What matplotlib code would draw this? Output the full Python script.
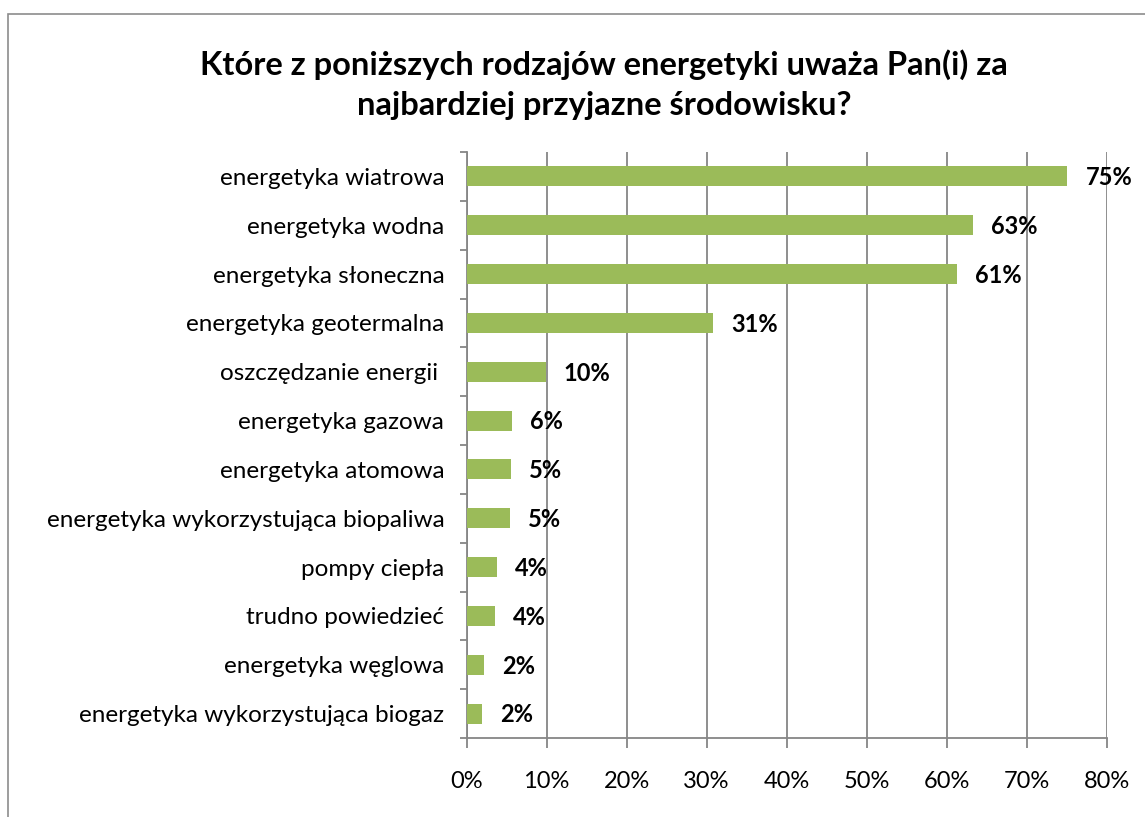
import matplotlib
matplotlib.use("Agg")
import matplotlib.pyplot as plt
from matplotlib.patches import Rectangle
import numpy as np

plt.rcParams["font.family"] = ["Lato", "DejaVu Sans"]

categories = [
    "energetyka wiatrowa",
    "energetyka wodna",
    "energetyka słoneczna",
    "energetyka geotermalna",
    "oszczędzanie energii ",
    "energetyka gazowa",
    "energetyka atomowa",
    "energetyka wykorzystująca biopaliwa",
    "pompy ciepła",
    "trudno powiedzieć",
    "energetyka węglowa",
    "energetyka wykorzystująca biogaz",
]
values = [75.1, 63.3, 61.25, 30.8, 9.9, 5.7, 5.5, 5.4, 3.8, 3.6, 2.2, 1.95]
value_labels = ["75%", "63%", "61%", "31%", "10%", "6%", "5%", "5%", "4%", "4%", "2%", "2%"]
xticks = [0, 10, 20, 30, 40, 50, 60, 70, 80]

W, H = 1145, 817
fig = plt.figure(figsize=(W / 100, H / 100), dpi=100)
ax = fig.add_axes([466.5 / W, (H - 738) / H, (1106.7 - 466.5) / W, (738 - 152) / H])

grey = "#868686"
y = np.arange(len(categories))
ax.barh(y, values, height=0.41, color="#9BBB59", zorder=3)

for yi, v, lab in zip(y, values, value_labels):
    ax.annotate(lab, (v, yi), xytext=(13, -1), textcoords="offset points",
                ha="left", va="center", fontsize=17, fontweight="bold", zorder=4)

ax.set_ylim(len(categories) - 0.5, -0.5)
ax.set_xlim(0, 80)
ax.set_xticks(xticks)
ax.set_xticklabels([f"{t}%" for t in xticks])
ax.set_yticks(y)
ax.set_yticklabels(categories)
ax.set_yticks(np.arange(-0.5, len(categories), 1.0), minor=True)

ax.grid(axis="x", color=grey, linewidth=1.3, zorder=0)
ax.tick_params(axis="y", which="major", length=0, pad=16, labelsize=17.5)
ax.tick_params(axis="y", which="minor", length=5, width=1.3, color=grey, direction="out")
ax.tick_params(axis="x", length=7, width=1.3, color=grey, direction="out", pad=17, labelsize=17)

for s in ["top", "right"]:
    ax.spines[s].set_visible(False)
for s in ["left", "bottom"]:
    ax.spines[s].set_color(grey)
    ax.spines[s].set_linewidth(1.3)

fig.text(604 / W, 1 - 65 / H, "Które z poniższych rodzajów energetyki uważa Pan(i) za",
         ha="center", va="center", fontsize=23.5, fontweight="bold")
fig.text(604 / W, 1 - 105 / H, "najbardziej przyjazne środowisku?",
         ha="center", va="center", fontsize=23.5, fontweight="bold")

frame = Rectangle((7.5 / W, -0.1), 2, 1.1 - 14 / H, transform=fig.transFigure,
                  fill=False, edgecolor="#8c8c8c", linewidth=1.2)
fig.add_artist(frame)

fig.savefig("out.png", dpi=100)
